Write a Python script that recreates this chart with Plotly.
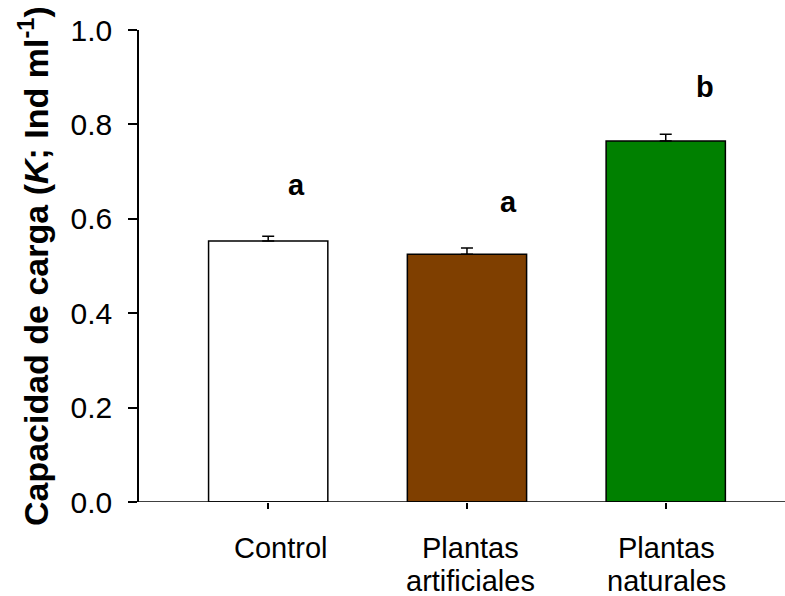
import plotly.graph_objects as go

categories = ["Control", "Plantas", "Plantas"]
second_line = ["", "artificiales", "naturales"]
label_xshift = [13, 4, 1]
values = [0.553, 0.525, 0.765]
errors = [0.010, 0.013, 0.014]
colors = ["#FFFFFF", "#7F3F00", "#008000"]
letters = ["a", "a", "b"]
letter_y = [0.650, 0.614, 0.858]
letter_dx = [0.14, 0.21, 0.20]
y_ticks = [0.0, 0.2, 0.4, 0.6, 0.8, 1.0]

xpos = list(range(len(categories)))
FONT = "Liberation Sans, Arial, sans-serif"

fig = go.Figure()
fig.add_trace(go.Bar(
    x=xpos, y=values, width=0.6,
    marker=dict(color=colors, line=dict(color="black", width=1.5)),
    error_y=dict(type="data", symmetric=False, array=errors,
                 arrayminus=[0] * len(errors), color="black",
                 thickness=1.5, width=6),
    showlegend=False,
))

annotations = []
for i, (l, ly, dx) in enumerate(zip(letters, letter_y, letter_dx)):
    annotations.append(dict(x=i + dx, y=ly, xref="x", yref="y", text=l,
                            showarrow=False, yanchor="bottom", yshift=-8,
                            font=dict(family=FONT, size=29, color="black", weight="bold")))
for i, (t1, t2, xs) in enumerate(zip(categories, second_line, label_xshift)):
    annotations.append(dict(x=i, y=0, xref="x", yref="paper", text=t1,
                            showarrow=False, yanchor="top", yshift=-28, xshift=xs,
                            font=dict(family=FONT, size=29, color="black")))
    if t2:
        annotations.append(dict(x=i, y=0, xref="x", yref="paper", text=t2,
                                showarrow=False, yanchor="top", yshift=-61, xshift=xs,
                                font=dict(family=FONT, size=29, color="black")))
annotations.append(dict(x=-0.164, y=0.5, xref="paper", yref="paper",
                        text="<b>Capacidad de carga (<i>K</i>; Ind ml<sup>-1</sup>)</b>",
                        textangle=-90, showarrow=False, xanchor="center", yanchor="middle",
                        font=dict(family=FONT, size=34, color="black")))

fig.update_layout(
    width=785, height=596,
    margin=dict(l=139, r=0, t=30, b=94),
    paper_bgcolor="white", plot_bgcolor="white",
    font=dict(family=FONT, color="black"),
    annotations=annotations,
    shapes=[dict(type="line", xref="paper", yref="y", x0=-0.01, x1=1, y0=0, y1=0,
                 line=dict(color="black", width=1.5))],
)
fig.update_xaxes(
    range=[-0.65, 2.6], tickmode="array", tickvals=xpos, showticklabels=False,
    ticks="outside", ticklen=6, tickwidth=1.5, tickcolor="black",
    showline=False, showgrid=False, zeroline=False,
)
fig.update_yaxes(
    range=[0, 1.0], tickmode="array", tickvals=y_ticks,
    ticktext=[f"{v:.1f}" for v in y_ticks],
    ticks="outside", ticklen=9, tickwidth=1.5, tickcolor="black",
    showline=True, linecolor="black", linewidth=1.5,
    showgrid=False, zeroline=False, ticklabelstandoff=10,
    tickfont=dict(family=FONT, size=30, color="black"),
)

fig.write_html("out.html")
